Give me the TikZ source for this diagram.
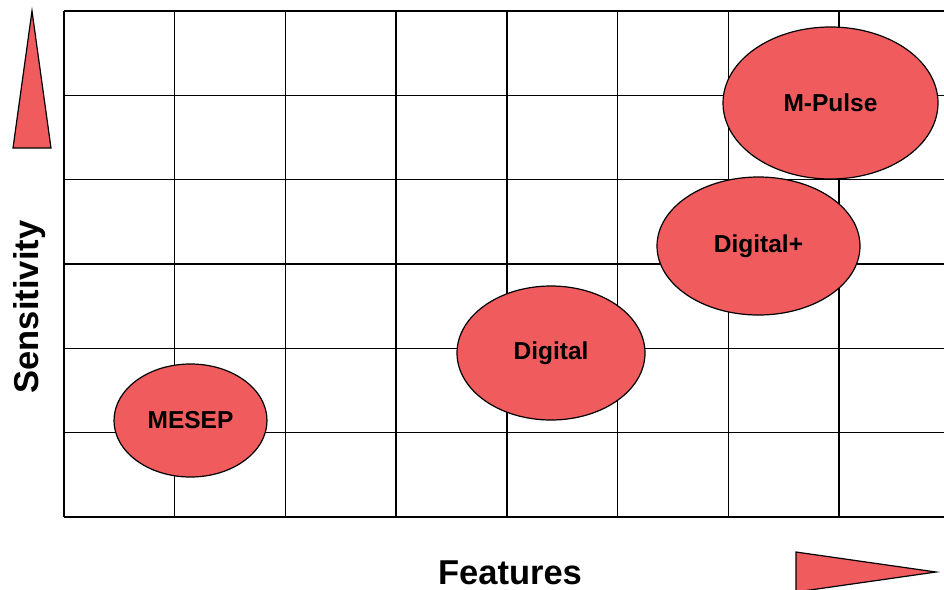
\documentclass[tikz,border=0pt]{standalone}
\usepackage{fontspec}
\setmainfont{Liberation Sans}
\usetikzlibrary{shapes.geometric}
\definecolor{blobred}{RGB}{240,92,94}
\tikzset{
  blob/.style={ellipse, draw=black, line width=1.2pt, fill=blobred, inner sep=0pt, font=\bfseries\fontsize{24.5}{28}\selectfont},
  gridline/.style={line width=1.4pt, black},
  marker/.style={draw=black, line width=1.2pt, fill=blobred},
  axislabel/.style={font=\bfseries\fontsize{34.5}{40}\selectfont, inner sep=0pt}
}
\begin{document}
\begin{tikzpicture}[x=1pt,y=-1pt]
\useasboundingbox (0,0) rectangle (944,589);
\clip (0,0) rectangle (944,589);
% grid
\foreach \i in {0,...,8} {
  \draw[gridline] ({64+\i*110.7},11) -- ({64+\i*110.7},517);
}
\foreach \j in {0,...,6} {
  \draw[gridline] (64,{11+\j*84.33}) -- (960,{11+\j*84.33});
}
% marker triangles
\draw[marker] (32,11) -- (51,148) -- (13,148) -- cycle;
\draw[marker] (796,552) -- (936,572) -- (796,592) -- cycle;
% ellipses
\node[blob, minimum width=153pt, minimum height=113pt] (mesep) at (190.5,420.5) {MESEP};
\node[blob, minimum width=188pt, minimum height=134pt] (digital) at (551,353) {Digital};
\node[blob, minimum width=203pt, minimum height=138pt] (digitalp) at (758.5,246) {Digital+};
\node[blob, minimum width=215pt, minimum height=152pt] (mpulse) at (830.5,103) {M-Pulse};
% axis labels
\node[axislabel] (features) at (510,573) {Features};
\node[axislabel, rotate=90] (sens) at (30,307) {Sensitivity};
\end{tikzpicture}
\end{document}
